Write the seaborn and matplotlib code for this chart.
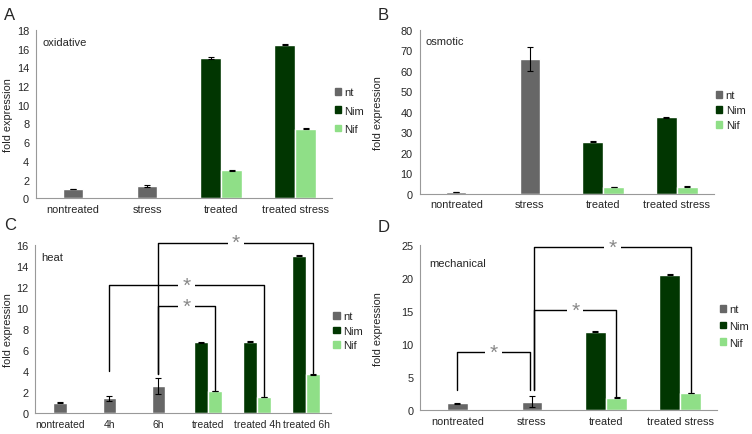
import numpy as np
import pandas as pd
import matplotlib
matplotlib.use("Agg")
import matplotlib.pyplot as plt
from matplotlib.patches import Patch
from matplotlib.ticker import FixedLocator
import seaborn as sns

sns.set_style("white")
plt.rcParams['font.family'] = ['Liberation Sans', 'DejaVu Sans']

C_NT = "#676767"
C_NIM = "#013601"
C_NIF = "#8fdf87"
nan = np.nan

# A - oxidative
a_cats = ["nontreated", "stress", "treated", "treated stress"]
a_nt = [1.0, 1.3, nan, nan]
a_nt_err = [0.04, 0.12, 0, 0]
a_nim = [nan, nan, 15.0, 16.4]
a_nim_err = [0, 0, 0.06, 0.05]
a_nif = [nan, nan, 3.0, 7.45]
a_nif_err = [0, 0, 0.05, 0.04]

# B - osmotic
b_cats = ["nontreated", "stress", "treated", "treated stress"]
b_nt = [0.9, 65.7, nan, nan]
b_nt_err = [0.2, 6.0, 0, 0]
b_nim = [nan, nan, 25.5, 37.3]
b_nim_err = [0, 0, 0.2, 0.2]
b_nif = [nan, nan, 3.3, 3.5]
b_nif_err = [0, 0, 0.15, 0.15]

# C - heat
c_cats = ["nontreated", "4h", "6h", "treated", "treated 4h", "treated 6h"]
c_nt = [1.0, 1.4, 2.6, nan, nan, nan]
c_nt_err = [0.03, 0.2, 0.75, 0, 0, 0]
c_nim = [nan, nan, nan, 6.75, 6.8, 15.0]
c_nim_err = [0, 0, 0, 0.04, 0.04, 0.04]
c_nif = [nan, nan, nan, 2.1, 1.55, 3.7]
c_nif_err = [0, 0, 0, 0.03, 0.03, 0.03]

# D - mechanical
d_cats = ["nontreated", "stress", "treated", "treated stress"]
d_nt = [1.0, 1.25, nan, nan]
d_nt_err = [0.05, 0.85, 0, 0]
d_nim = [nan, nan, 11.9, 20.5]
d_nim_err = [0, 0, 0.08, 0.08]
d_nif = [nan, nan, 1.9, 2.6]
d_nif_err = [0, 0, 0.05, 0.05]

# significance brackets: (cat1, offset1, y1, cat2, offset2, y2, top)
c_brackets = [
    (2, 0.0, 3.7, 5, 0.14, 3.8, 16.25),
    (1, 0.0, 4.0, 4, 0.14, 1.65, 12.2),
    (2, 0.0, 3.7, 3, 0.14, 2.2, 10.2),
]
d_brackets = [
    (0, 0.0, 3.0, 1, -0.03, 3.0, 8.8),
    (1, 0.03, 3.0, 2, 0.14, 2.0, 15.2),
    (1, 0.03, 3.0, 3, 0.14, 2.7, 24.7),
]

NT_W = 0.27
PAIR_W = 0.57


def draw_panel(ax, cats, nt, nt_err, nim, nim_err, nif, nif_err, ymax, ystep, title, ylab_x, xsize=7.9):
    n = len(cats)
    df_nt = pd.DataFrame({"cat": cats, "val": nt}).dropna()
    sns.barplot(data=df_nt, x="cat", y="val", order=cats, color=C_NT, width=NT_W,
                saturation=1, errorbar=None, ax=ax)
    df_tr = pd.DataFrame({"cat": cats * 2, "val": nim + nif,
                          "series": ["Nim"] * n + ["Nif"] * n}).dropna()
    sns.barplot(data=df_tr, x="cat", y="val", hue="series", order=cats,
                hue_order=["Nim", "Nif"], palette=[C_NIM, C_NIF], width=PAIR_W,
                dodge=True, saturation=1, errorbar=None, legend=False, ax=ax)
    pos = np.arange(n)
    ekw = dict(fmt="none", ecolor="black", elinewidth=0.8, capsize=2, capthick=0.8)
    ax.errorbar(pos, nt, yerr=nt_err, **ekw)
    ax.errorbar(pos - PAIR_W / 4, nim, yerr=nim_err, **ekw)
    ax.errorbar(pos + PAIR_W / 4, nif, yerr=nif_err, **ekw)

    ax.set_xlim(-0.5, n - 0.5)
    ax.set_ylim(0, ymax)
    ax.set_yticks(np.arange(0, ymax + 0.1, ystep))
    ax.set_xlabel("")
    ax.set_ylabel("fold expression", fontsize=7.8, color="#222222")
    ax.yaxis.set_label_coords(ylab_x, 0.5)
    ax.xaxis.set_minor_locator(FixedLocator(np.arange(n + 1) - 0.5))
    ax.tick_params(axis="x", which="major", length=0, labelsize=xsize, pad=4)
    ax.tick_params(axis="x", which="minor", length=4, color="#999999", width=0.8)
    ax.tick_params(axis="y", length=3, color="#999999", width=0.8, labelsize=7.9, pad=2)
    for s in ["top", "right"]:
        ax.spines[s].set_visible(False)
    for s in ["left", "bottom"]:
        ax.spines[s].set_color("#999999")
        ax.spines[s].set_linewidth(0.8)
    ax.text(0.02, 0.93, title, transform=ax.transAxes, fontsize=8, va="center")


def draw_legend(ax, ycenter, spacing):
    handles = [Patch(color=C_NT, label="nt"), Patch(color=C_NIM, label="Nim"),
               Patch(color=C_NIF, label="Nif")]
    ax.legend(handles=handles, loc="center left", bbox_to_anchor=(0.99, ycenter),
              frameon=False, handlelength=0.55, handleheight=0.55, handletextpad=0.3,
              labelspacing=spacing, fontsize=8, borderpad=0)


def draw_brackets(ax, brackets):
    for c1, o1, y1, c2, o2, y2, top in brackets:
        x1 = c1 + o1
        x2 = c2 + o2
        ax.plot([x1, x1, x2, x2], [y1, top, top, y2], color="black", lw=1.0,
                clip_on=False, zorder=5)
        ax.text((x1 + x2) / 2, top, "*", ha="center", va="center", fontsize=15,
                color="#888888", zorder=6, clip_on=False,
                bbox=dict(boxstyle="square,pad=0.2", fc="white", ec="none"))


fig = plt.figure(figsize=(7.52, 4.35), dpi=100)
ax_a = fig.add_axes([0.048, 0.542, 0.394, 0.387])
ax_b = fig.add_axes([0.558, 0.552, 0.391, 0.377])
ax_c = fig.add_axes([0.047, 0.048, 0.393, 0.386])
ax_d = fig.add_axes([0.559, 0.055, 0.395, 0.379])

draw_panel(ax_a, a_cats, a_nt, a_nt_err, a_nim, a_nim_err, a_nif, a_nif_err, 18, 2, "oxidative", -0.078)
draw_panel(ax_b, b_cats, b_nt, b_nt_err, b_nim, b_nim_err, b_nif, b_nif_err, 80, 10, "osmotic", -0.125)
draw_panel(ax_c, c_cats, c_nt, c_nt_err, c_nim, c_nim_err, c_nif, c_nif_err, 16, 2, "heat", -0.074, xsize=7.5)
draw_panel(ax_d, d_cats, d_nt, d_nt_err, d_nim, d_nim_err, d_nif, d_nif_err, 25, 5, "mechanical", -0.125)
ax_d.texts[-1].set_position((0.03, 0.89))

draw_legend(ax_a, 0.52, 0.75)
draw_legend(ax_b, 0.51, 0.45)
draw_legend(ax_c, 0.49, 0.4)
draw_legend(ax_d, 0.51, 0.6)

draw_brackets(ax_c, c_brackets)
draw_brackets(ax_d, d_brackets)

for lbl, x, y in [("A", 0.005, 0.965), ("B", 0.502, 0.965), ("C", 0.005, 0.482), ("D", 0.502, 0.478)]:
    fig.text(x, y, lbl, fontsize=12, va="center", ha="left")

fig.savefig("out.png", dpi=100, facecolor="white")
